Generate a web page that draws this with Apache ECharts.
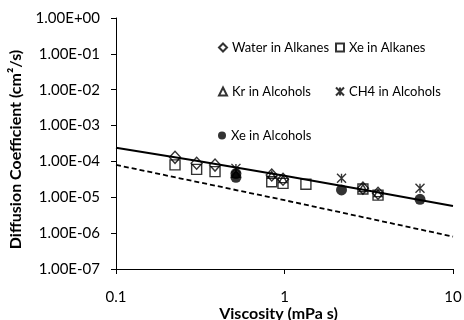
<!DOCTYPE html>
<html>
<head>
<meta charset="utf-8">
<script src="https://cdn.jsdelivr.net/npm/echarts@6/dist/echarts.min.js"></script>
<style>
  html, body { margin: 0; padding: 0; background: #fff; }
  #chart { width: 464px; height: 320px; }
</style>
</head>
<body>
<div id="chart"></div>
<script>
// tick labels
const xTickLabels = ['0.1', '1', '10'];
const yTickLabels = ['1.00E-07', '1.00E-06', '1.00E-05', '1.00E-04', '1.00E-03', '1.00E-02', '1.00E-01', '1.00E+00'];

// Water in Alkanes
const waterX = [0.224, 0.301, 0.387, 0.84, 0.98, 2.92, 3.59];
const waterY = [1.30e-4, 8.9e-5, 7.9e-5, 4.2e-5, 3.2e-5, 1.8e-5, 1.3e-5];
// Xe in Alkanes
const xeAlkX = [0.224, 0.301, 0.387, 0.84, 0.98, 1.34, 2.92, 3.59];
const xeAlkY = [8.0e-5, 6.0e-5, 5.2e-5, 2.7e-5, 2.45e-5, 2.3e-5, 1.7e-5, 1.15e-5];
// Kr in Alcohols
const krX = [0.515, 0.84, 0.98, 2.92, 3.59];
const krY = [4.5e-5, 4.2e-5, 3.2e-5, 1.8e-5, 1.3e-5];
// CH4 in Alcohols
const ch4X = [0.515, 2.18, 6.37];
const ch4Y = [6.4e-5, 3.4e-5, 1.8e-5];
// Xe in Alcohols
const xeAlcX = [0.515, 0.515, 2.18, 6.37];
const xeAlcY = [4.6e-5, 3.6e-5, 1.6e-5, 8.8e-6];

// correlation lines
const fitX = [0.1, 0.3, 1, 3, 10];
const fitY = [2.4e-4, 1.05e-4, 4.0e-5, 1.6e-5, 5.7e-6];
const lowX = [0.1, 1, 10];
const lowY = [8.0e-5, 8.3e-6, 8.0e-7];

const zip = (xs, ys) => xs.map((x, i) => [x, ys[i]]);

const FONT = 'Lato, "Open Sans", sans-serif';
const ch4Symbol = 'path://M0,0L10,10M10,0L0,10M5,0L5,10';

const openStyle = { color: 'rgba(0,0,0,0)', borderColor: '#000', borderWidth: 1.4 };

function legendAt(name, left, top) {
  return {
    data: [name],
    left: left,
    top: top,
    padding: 0,
    itemWidth: 8,
    itemHeight: 8,
    itemGap: 0,
    selectedMode: false,
    textStyle: { color: '#000', fontSize: 13, fontFamily: FONT },
  };
}

const chart = echarts.init(document.getElementById('chart'));

chart.setOption({
  animation: false,
  backgroundColor: '#fff',
  grid: { left: 116, right: 11, top: 18, bottom: 51, outerBoundsMode: 'none', containLabel: false },
  legend: [
    legendAt('Water in Alkanes', 218, 41),
    legendAt('Xe in Alkanes', 335, 41),
    legendAt('Kr in Alcohols', 218, 85),
    legendAt('CH4 in Alcohols', 335, 85),
    legendAt('Xe in Alcohols', 218, 129),
  ],
  xAxis: {
    type: 'log',
    logBase: 10,
    min: 0.1,
    max: 10,
    name: 'Viscosity (mPa s)',
    nameLocation: 'middle',
    nameGap: 37,
    nameMoveOverlap: false,
    nameTextStyle: { color: '#000', fontSize: 16, fontWeight: 'bold', fontFamily: FONT, padding: [0, 12, 0, 0] },
    axisLine: { lineStyle: { color: '#000', width: 1 } },
    axisTick: { show: true, length: 5, lineStyle: { color: '#000' } },
    minorTick: { show: false },
    splitLine: { show: false },
    axisLabel: {
      color: '#000',
      fontSize: 15,
      fontFamily: FONT,
      margin: 21,
      formatter: (v) => xTickLabels[Math.round(Math.log10(v)) + 1],
    },
  },
  yAxis: {
    type: 'log',
    logBase: 10,
    min: 1e-7,
    max: 1,
    name: 'Diffusion Coefficient (cm²/s)',
    nameLocation: 'middle',
    nameGap: 92,
    nameTextStyle: { color: '#000', fontSize: 16, fontWeight: 'bold', fontFamily: FONT, padding: [0, 12, 0, 0] },
    axisLine: { show: true, lineStyle: { color: '#000', width: 1 } },
    axisTick: { show: true, length: 5, lineStyle: { color: '#000' } },
    splitLine: { show: false },
    axisLabel: {
      color: '#000',
      fontSize: 15,
      fontFamily: FONT,
      margin: 16,
      formatter: (v) => yTickLabels[Math.round(Math.log10(v)) + 7],
    },
  },
  series: [
    {
      type: 'line',
      data: zip(fitX, fitY),
      showSymbol: false,
      symbol: 'none',
      lineStyle: { color: '#000', width: 2 },
      z: 1,
    },
    {
      type: 'line',
      data: zip(lowX, lowY),
      showSymbol: false,
      symbol: 'none',
      lineStyle: { color: '#000', width: 1.8, type: [5, 3] },
      z: 1,
    },
    {
      name: 'Water in Alkanes',
      type: 'scatter',
      data: zip(waterX, waterY),
      symbol: 'diamond',
      symbolSize: [11, 12],
      itemStyle: openStyle,
      z: 4,
    },
    {
      name: 'Xe in Alkanes',
      type: 'scatter',
      data: zip(xeAlkX, xeAlkY),
      symbol: 'rect',
      symbolSize: 10,
      itemStyle: openStyle,
      z: 3,
    },
    {
      name: 'Kr in Alcohols',
      type: 'scatter',
      data: zip(krX, krY),
      symbol: 'triangle',
      symbolSize: [8, 7],
      itemStyle: openStyle,
      z: 5,
    },
    {
      name: 'CH4 in Alcohols',
      type: 'scatter',
      data: zip(ch4X, ch4Y),
      symbol: ch4Symbol,
      symbolSize: 9,
      itemStyle: openStyle,
      z: 5,
    },
    {
      name: 'Xe in Alcohols',
      type: 'scatter',
      data: zip(xeAlcX, xeAlcY),
      symbol: 'circle',
      symbolSize: 11,
      itemStyle: { color: '#000' },
      z: 6,
    },
  ],
});
</script>
</body>
</html>
